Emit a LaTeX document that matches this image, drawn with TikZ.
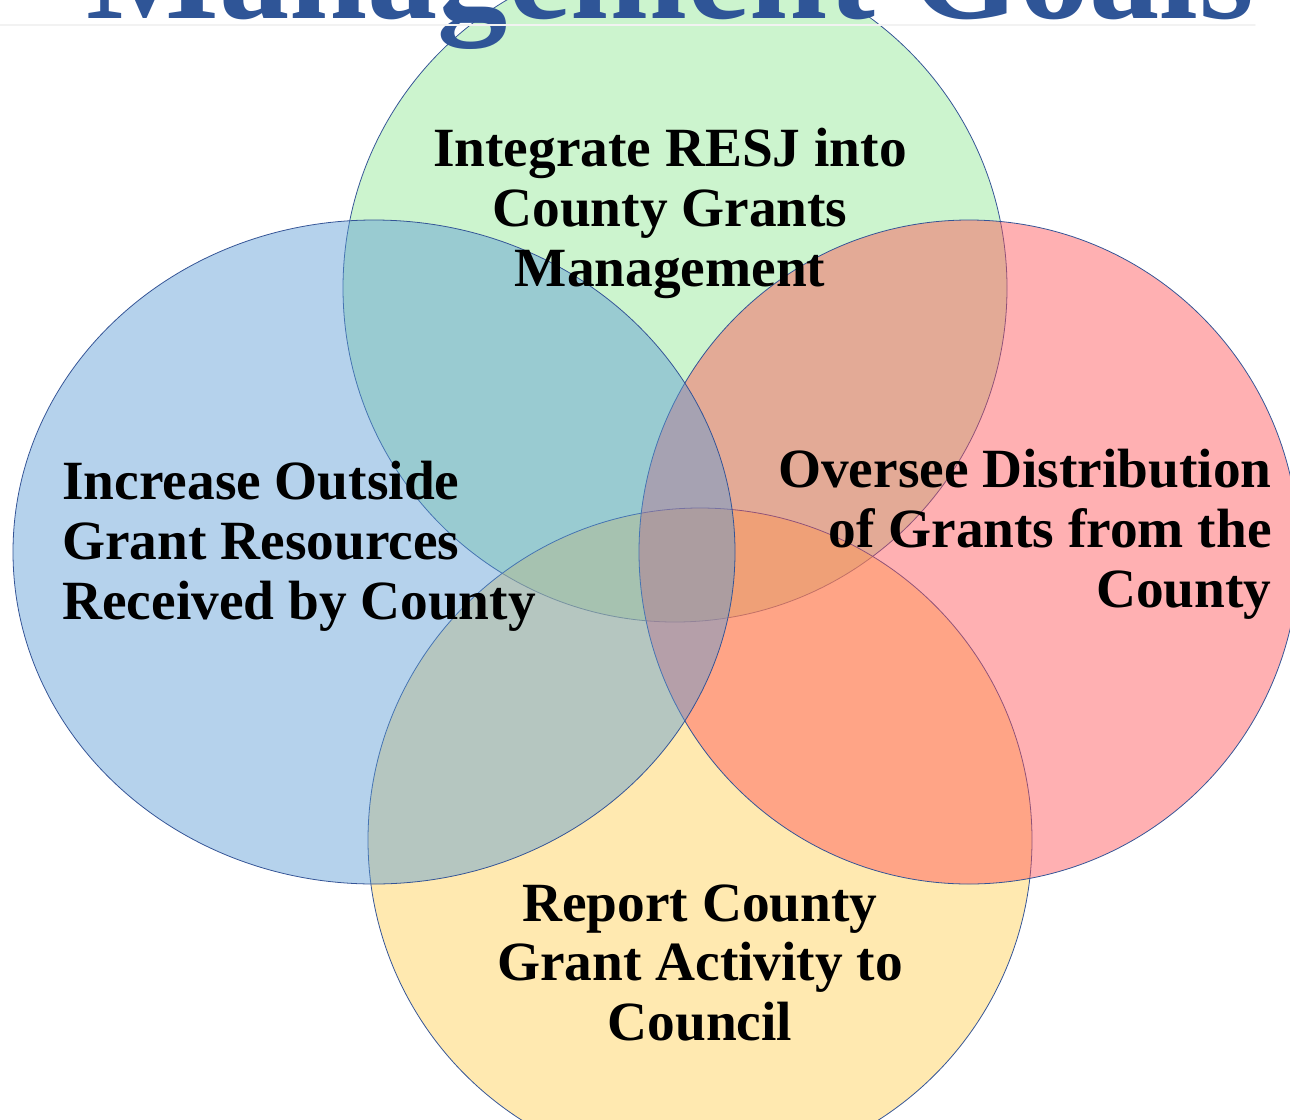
\documentclass[tikz,border=0pt]{standalone}
\usepackage{fontspec}
\setmainfont{Liberation Serif}
\definecolor{titleblue}{RGB}{47,85,151}
\definecolor{rimblue}{RGB}{52,84,150}
\definecolor{venngreen}{RGB}{142,231,146}
\definecolor{vennblue}{RGB}{91,155,213}
\definecolor{vennred}{RGB}{255,80,84}
\definecolor{vennyellow}{RGB}{255,206,79}
\begin{document}
\begin{tikzpicture}[x=0.02cm, y=-0.02cm, line join=round, line cap=round,
    goalset/.style={draw=rimblue, line width=0.45pt, fill opacity=0.45},
    goaltext/.style={font=\fontsize{31.5}{34}\selectfont\bfseries, inner sep=0pt, text=black}]
    \useasboundingbox (0,0) rectangle (1290,1119);
    \clip (0,0) rectangle (1290,1119);
    % the four goals
    \draw[goalset, fill=venngreen] (675,288) ellipse [x radius=332, y radius=334];
    \draw[goalset, fill=vennyellow] (700,840) ellipse [x radius=332, y radius=332];
    \draw[goalset, fill=vennred] (969,552) ellipse [x radius=330, y radius=332];
    \draw[goalset, fill=vennblue] (374,552) ellipse [x radius=361, y radius=332];
    \node[font=\fontsize{80}{90}\selectfont\bfseries, text=titleblue, anchor=base, inner sep=0pt] (title) at (670,18) {Management Goals};
    \draw[gray!10, line width=1pt] (0,25) -- (1255,25);
    \node[goaltext, align=center, anchor=north] (integrate) at (670,128) {Integrate RESJ into\\County Grants\\Management};
    \node[goaltext, align=left, anchor=north west] (increase) at (62,461) {Increase Outside\\Grant Resources\\Received by County};
    \node[goaltext, align=right, anchor=north east] (oversee) at (1272,449) {Oversee Distribution\\of Grants from the\\County};
    \node[goaltext, align=center, anchor=north] (report) at (700,884) {Report County\\Grant Activity to\\Council};
\end{tikzpicture}
\end{document}
